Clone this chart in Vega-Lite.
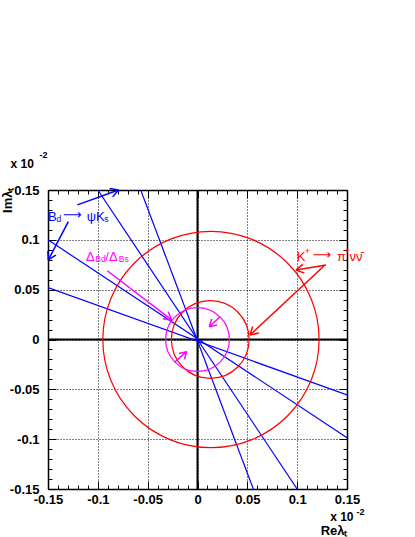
{
  "$schema": "https://vega.github.io/schema/vega-lite/v6.json",
  "width": 299,
  "height": 299,
  "autosize": {"type": "none"},
  "padding": {"left": 48, "top": 190, "right": 68, "bottom": 48},
  "background": "white",
  "config": {
    "view": {"stroke": null},
    "axis": {
      "labelFont": "Liberation Sans", "labelFontWeight": "bold", "labelFontSize": 13, "labelColor": "#000",
      "titleFont": "Liberation Sans", "titleFontWeight": "bold", "titleFontSize": 13, "titleColor": "#000",
      "tickColor": "#000", "domainColor": "#000", "domainWidth": 1.5, "tickWidth": 1,
      "labelOverlap": false, "labelFlush": false, "labelBound": false
    }
  },
  "datasets": {
    "lines": [
      {"id": "A", "x": -0.1, "y": 0.15}, {"id": "A", "x": 0.1, "y": -0.15},
      {"id": "B", "x": -0.057, "y": 0.15}, {"id": "B", "x": 0.056, "y": -0.15},
      {"id": "C", "x": -0.15, "y": 0.1}, {"id": "C", "x": 0.15, "y": -0.0985},
      {"id": "D", "x": -0.15, "y": 0.052}, {"id": "D", "x": 0.15, "y": -0.0555}
    ],
    "circles": [
      {"g": "K+→π+νν̄", "cx": 0.0135, "cy": 0, "r": 0.1085},
      {"g": "K+→π+νν̄", "cx": 0.0128, "cy": 0, "r": 0.039},
      {"g": "ΔBd/ΔBs", "cx": 0, "cy": 0, "r": 0.032}
    ],
    "arrows": [
      {"g": "Bd→ψKs", "x": -0.1205, "y": 0.1351, "x2": -0.0793, "y2": 0.15},
      {"g": "Bd→ψKs", "x": -0.0793, "y": 0.15, "x2": -0.0851, "y2": 0.1431},
      {"g": "Bd→ψKs", "x": -0.0793, "y": 0.15, "x2": -0.0882, "y2": 0.1516},
      {"g": "Bd→ψKs", "x": -0.1296, "y": 0.1182, "x2": -0.1497, "y2": 0.0798},
      {"g": "Bd→ψKs", "x": -0.1497, "y": 0.0798, "x2": -0.1501, "y2": 0.0888},
      {"g": "Bd→ψKs", "x": -0.1497, "y": 0.0798, "x2": -0.1421, "y2": 0.0846},
      {"g": "K+→π+νν̄", "x": 0.1289, "y": 0.0748, "x2": 0.0988, "y2": 0.0697},
      {"g": "K+→π+νν̄", "x": 0.0988, "y": 0.0697, "x2": 0.1057, "y2": 0.0754},
      {"g": "K+→π+νν̄", "x": 0.0988, "y": 0.0697, "x2": 0.1072, "y2": 0.0666},
      {"g": "K+→π+νν̄", "x": 0.1269, "y": 0.0738, "x2": 0.0527, "y2": 0.0045},
      {"g": "K+→π+νν̄", "x": 0.0527, "y": 0.0045, "x2": 0.0553, "y2": 0.0131},
      {"g": "K+→π+νν̄", "x": 0.0527, "y": 0.0045, "x2": 0.0615, "y2": 0.0065},
      {"g": "ΔBd/ΔBs", "x": -0.0905, "y": 0.069, "x2": -0.0259, "y2": 0.0196},
      {"g": "ΔBd/ΔBs", "x": -0.0259, "y": 0.0196, "x2": -0.0348, "y2": 0.0208},
      {"g": "ΔBd/ΔBs", "x": -0.0259, "y": 0.0196, "x2": -0.0294, "y2": 0.0279},
      {"g": "ΔBd/ΔBs", "x": 0.0226, "y": 0.0229, "x2": 0.0118, "y2": 0.0128},
      {"g": "ΔBd/ΔBs", "x": 0.0118, "y": 0.0128, "x2": 0.0141, "y2": 0.0205},
      {"g": "ΔBd/ΔBs", "x": 0.0118, "y": 0.0128, "x2": 0.0196, "y2": 0.0146},
      {"g": "ΔBd/ΔBs", "x": -0.0226, "y": -0.0223, "x2": -0.0108, "y2": -0.0122},
      {"g": "ΔBd/ΔBs", "x": -0.0108, "y": -0.0122, "x2": -0.0131, "y2": -0.0199},
      {"g": "ΔBd/ΔBs", "x": -0.0108, "y": -0.0122, "x2": -0.0186, "y2": -0.0140}
    ],
    "labels": [
      {"g": "Bd→ψKs", "kind": "main", "text": "B", "x": -0.15, "y": 0.1192},
      {"g": "Bd→ψKs", "kind": "small", "text": "d", "x": -0.1415, "y": 0.1182},
      {"g": "Bd→ψKs", "kind": "arrow", "text": "⟶", "x": -0.1349, "y": 0.1209},
      {"g": "Bd→ψKs", "kind": "main", "text": "ψK", "x": -0.1112, "y": 0.1189},
      {"g": "Bd→ψKs", "kind": "small", "text": "s", "x": -0.0935, "y": 0.1179},
      {"g": "ΔBd/ΔBs", "kind": "main", "text": "Δ", "x": -0.1119, "y": 0.0791},
      {"g": "ΔBd/ΔBs", "kind": "small", "text": "Bd", "x": -0.1025, "y": 0.0778},
      {"g": "ΔBd/ΔBs", "kind": "main", "text": "/Δ", "x": -0.0925, "y": 0.0791},
      {"g": "ΔBd/ΔBs", "kind": "small", "text": "Bs", "x": -0.079, "y": 0.0778},
      {"g": "K+→π+νν̄", "kind": "main", "text": "K", "x": 0.0995, "y": 0.0791},
      {"g": "K+→π+νν̄", "kind": "small", "text": "+", "x": 0.1078, "y": 0.0858},
      {"g": "K+→π+νν̄", "kind": "arrow", "text": "⟶", "x": 0.1155, "y": 0.0808},
      {"g": "K+→π+νν̄", "kind": "main", "text": "π", "x": 0.14, "y": 0.0791},
      {"g": "K+→π+νν̄", "kind": "small", "text": "+", "x": 0.1475, "y": 0.0858},
      {"g": "K+→π+νν̄", "kind": "main", "text": "νν̄", "x": 0.1525, "y": 0.0791}
    ]
  },
  "resolve": {"axis": {"x": "independent", "y": "independent"}},
  "layer": [
    {
      "data": {"values": [{}]},
      "mark": {"type": "rule", "color": "#000", "strokeWidth": 2},
      "encoding": {
        "x": {"datum": 0, "type": "quantitative",
          "scale": {"domain": [-0.15, 0.15], "nice": false, "zero": false},
          "axis": {"orient": "bottom", "values": [-0.15, -0.1, -0.05, 0, 0.05, 0.1, 0.15],
            "ticks": false, "tickSize": 0, "labelPadding": 4, "domain": true,
            "grid": true, "gridDash": [1, 2], "gridColor": "#000", "gridOpacity": 1,
            "labelExpr": "datum.value < 0 ? '-' + format(-datum.value, '~g') : format(datum.value, '~g')",
            "title": "Reλₜ", "titleX": 299, "titleY": 45, "titleAlign": "right", "titleBaseline": "alphabetic"}}
      }
    },
    {
      "data": {"values": [{}]},
      "mark": {"type": "rule", "color": "#000", "strokeWidth": 2},
      "encoding": {
        "y": {"datum": 0, "type": "quantitative",
          "scale": {"domain": [-0.15, 0.15], "nice": false, "zero": false},
          "axis": {"orient": "left", "values": [-0.15, -0.1, -0.05, 0, 0.05, 0.1, 0.15],
            "ticks": false, "tickSize": 0, "labelPadding": 9, "domain": true,
            "grid": true, "gridDash": [1, 2], "gridColor": "#000", "gridOpacity": 1,
            "labelExpr": "datum.value < 0 ? '-' + format(-datum.value, '~g') : format(datum.value, '~g')",
            "title": "Imλₜ", "titleAngle": 270, "titleX": -37, "titleY": -3, "titleAlign": "right", "titleBaseline": "alphabetic"}}
      }
    },
    {
      "data": {"name": "lines"},
      "mark": {"type": "line", "color": "#0000ff", "strokeWidth": 1.2, "clip": true},
      "encoding": {
        "x": {"field": "x", "type": "quantitative",
          "scale": {"domain": [-0.15, 0.15], "nice": false, "zero": false},
          "axis": {"orient": "top", "values": [-0.15, -0.1, -0.05, 0, 0.05, 0.1, 0.15], "labels": false, "ticks": true, "tickSize": -8, "grid": false, "domain": true, "title": null}},
        "y": {"field": "y", "type": "quantitative",
          "scale": {"domain": [-0.15, 0.15], "nice": false, "zero": false},
          "axis": {"orient": "right", "values": [-0.15, -0.1, -0.05, 0, 0.05, 0.1, 0.15], "labels": false, "ticks": true, "tickSize": -8, "grid": false, "domain": true, "title": null}},
        "detail": {"field": "id"}
      }
    },
    {
      "data": {"name": "circles"},
      "mark": {"type": "point", "shape": "circle", "filled": false, "opacity": 1, "strokeWidth": 1.2},
      "encoding": {
        "x": {"field": "cx", "type": "quantitative",
          "scale": {"domain": [-0.15, 0.15], "nice": false, "zero": false},
          "axis": {"orient": "top", "values": [-0.14, -0.13, -0.12, -0.11, -0.09, -0.08, -0.07, -0.06, -0.04, -0.03, -0.02, -0.01, 0.01, 0.02, 0.03, 0.04, 0.06, 0.07, 0.08, 0.09, 0.11, 0.12, 0.13, 0.14], "labels": false, "ticks": true, "tickSize": -4, "grid": false, "domain": false, "title": null}},
        "y": {"field": "cy", "type": "quantitative",
          "scale": {"domain": [-0.15, 0.15], "nice": false, "zero": false},
          "axis": {"orient": "right", "values": [-0.14, -0.13, -0.12, -0.11, -0.09, -0.08, -0.07, -0.06, -0.04, -0.03, -0.02, -0.01, 0.01, 0.02, 0.03, 0.04, 0.06, 0.07, 0.08, 0.09, 0.11, 0.12, 0.13, 0.14], "labels": false, "ticks": true, "tickSize": -4, "grid": false, "domain": false, "title": null}},
        "size": {"field": "r", "type": "quantitative", "scale": {"type": "pow", "exponent": 2, "domain": [0, 0.15], "range": [0, 89401]}, "legend": null},
        "color": {"field": "g", "type": "nominal", "scale": {"domain": ["Bd→ψKs", "K+→π+νν̄", "ΔBd/ΔBs"], "range": ["#0000ff", "#ff0000", "#ff00ff"]}, "legend": null}
      }
    },
    {
      "data": {"name": "arrows"},
      "mark": {"type": "rule", "strokeWidth": 1.5},
      "encoding": {
        "x": {"field": "x", "type": "quantitative",
          "scale": {"domain": [-0.15, 0.15], "nice": false, "zero": false},
          "axis": {"orient": "bottom", "values": [-0.14, -0.13, -0.12, -0.11, -0.09, -0.08, -0.07, -0.06, -0.04, -0.03, -0.02, -0.01, 0.01, 0.02, 0.03, 0.04, 0.06, 0.07, 0.08, 0.09, 0.11, 0.12, 0.13, 0.14], "labels": false, "ticks": true, "tickSize": -4, "grid": false, "domain": false,
            "title": "x 10", "titleX": 305, "titleY": 31, "titleAlign": "right", "titleBaseline": "alphabetic", "titleFontSize": 12}},
        "y": {"field": "y", "type": "quantitative",
          "scale": {"domain": [-0.15, 0.15], "nice": false, "zero": false},
          "axis": {"orient": "left", "values": [-0.14, -0.13, -0.12, -0.11, -0.09, -0.08, -0.07, -0.06, -0.04, -0.03, -0.02, -0.01, 0.01, 0.02, 0.03, 0.04, 0.06, 0.07, 0.08, 0.09, 0.11, 0.12, 0.13, 0.14], "labels": false, "ticks": true, "tickSize": -4, "grid": false, "domain": false,
            "title": "x 10", "titleAngle": 0, "titleX": -38, "titleY": -23, "titleAlign": "left", "titleBaseline": "alphabetic", "titleFontSize": 12}},
        "x2": {"field": "x2"},
        "y2": {"field": "y2"},
        "color": {"field": "g", "type": "nominal", "legend": null}
      }
    },
    {
      "data": {"name": "labels"},
      "transform": [{"filter": "datum.kind == 'main'"}],
      "mark": {"type": "text", "font": "Liberation Sans", "fontSize": 13, "align": "left", "baseline": "alphabetic"},
      "encoding": {
        "x": {"field": "x", "type": "quantitative",
          "scale": {"domain": [-0.15, 0.15], "nice": false, "zero": false},
          "axis": {"orient": "bottom", "values": [-0.15, -0.1, -0.05, 0, 0.05, 0.1, 0.15], "labels": false, "ticks": true, "tickSize": -8, "grid": false, "domain": false,
            "title": "-2", "titleX": 308, "titleY": 25, "titleAlign": "left", "titleBaseline": "alphabetic", "titleFontSize": 9}},
        "y": {"field": "y", "type": "quantitative",
          "scale": {"domain": [-0.15, 0.15], "nice": false, "zero": false},
          "axis": {"orient": "left", "values": [-0.15, -0.1, -0.05, 0, 0.05, 0.1, 0.15], "labels": false, "ticks": true, "tickSize": -8, "grid": false, "domain": false,
            "title": "-2", "titleAngle": 0, "titleX": -9, "titleY": -33, "titleAlign": "left", "titleBaseline": "alphabetic", "titleFontSize": 9}},
        "text": {"field": "text"},
        "color": {"field": "g", "type": "nominal", "legend": null}
      }
    },
    {
      "data": {"name": "labels"},
      "transform": [{"filter": "datum.kind == 'small'"}],
      "mark": {"type": "text", "font": "Liberation Sans", "fontSize": 8.5, "align": "left", "baseline": "alphabetic"},
      "encoding": {
        "x": {"field": "x", "type": "quantitative", "scale": {"domain": [-0.15, 0.15], "nice": false, "zero": false}, "axis": null},
        "y": {"field": "y", "type": "quantitative", "scale": {"domain": [-0.15, 0.15], "nice": false, "zero": false}, "axis": null},
        "text": {"field": "text"},
        "color": {"field": "g", "type": "nominal", "legend": null}
      }
    },
    {
      "data": {"name": "labels"},
      "transform": [{"filter": "datum.kind == 'arrow'"}],
      "mark": {"type": "text", "font": "DejaVu Sans", "fontSize": 13, "align": "left", "baseline": "alphabetic"},
      "encoding": {
        "x": {"field": "x", "type": "quantitative", "scale": {"domain": [-0.15, 0.15], "nice": false, "zero": false}, "axis": null},
        "y": {"field": "y", "type": "quantitative", "scale": {"domain": [-0.15, 0.15], "nice": false, "zero": false}, "axis": null},
        "text": {"field": "text"},
        "color": {"field": "g", "type": "nominal", "legend": null}
      }
    }
  ]
}
